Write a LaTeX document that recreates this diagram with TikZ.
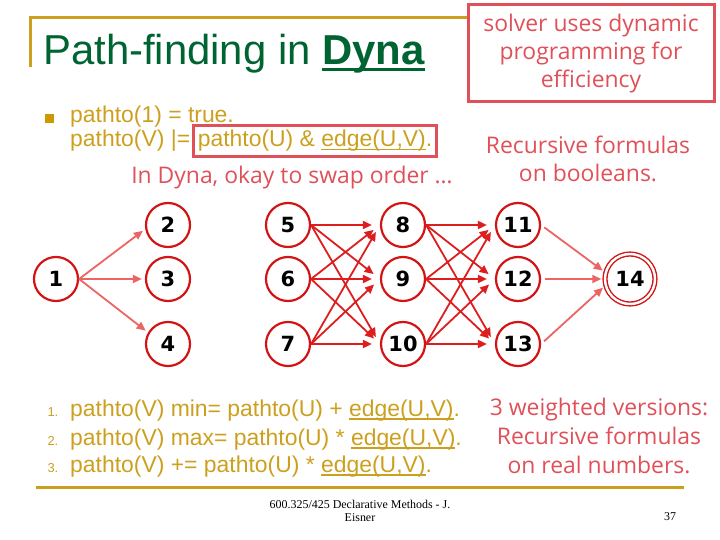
\documentclass[tikz,border=0pt]{standalone}
\usepackage{fontspec}
\setmainfont{Liberation Sans}
\newfontfamily\comicfont{Open Sans}
\newfontfamily\numfont{DejaVu Sans}
\newfontfamily\footfont{Liberation Serif}
\usetikzlibrary{arrows.meta,positioning}
\definecolor{gold}{RGB}{204,160,30}
\definecolor{bulletgold}{RGB}{204,153,0}
\definecolor{titlegreen}{RGB}{0,100,50}
\definecolor{notered}{RGB}{224,80,88}
\definecolor{noderim}{RGB}{210,20,20}
\definecolor{darkarrow}{RGB}{222,30,30}
\definecolor{lightarrow}{RGB}{236,100,100}
% underline with own depth and thickness
\newcommand{\thickul}[3]{\setbox0\hbox{#3}\rlap{\rule[-#1]{\wd0}{#2}}\box0}
\tikzset{
  vertex/.style={circle, draw=noderim, line width=2.2bp, minimum size=44bp, inner sep=0pt,
    font=\numfont\bfseries\fontsize{21}{21}\selectfont},
  goal/.style={vertex, minimum size=50bp, line width=1.4bp, double=white, double distance=2.4bp},
  hop/.style={-{Triangle[length=9bp,width=8bp]}, draw=darkarrow, line width=1.8bp, shorten >=8bp},
  outer/.style={hop, draw=lightarrow, shorten >=3bp},
  goldtext/.style={text=gold, font=\fontsize{23}{25}\selectfont, inner sep=0pt},
  note/.style={text=notered, font=\comicfont\fontsize{23}{28}\selectfont, align=center, inner sep=0pt},
}
\begin{document}
\begin{tikzpicture}[x=1bp,y=-1bp]
    \useasboundingbox (0,0) rectangle (720,540);
    % Title and frame
    \draw[gold, line width=3bp] (30,67) -- (30,18) -- (470,18);
    \draw[gold, line width=3bp] (36,487) -- (684,487);
    \node[anchor=base west, text=titlegreen, font=\fontsize{42}{42}\selectfont, inner sep=0pt] (title) at (43,65)
        {Path-finding in \thickul{6bp}{2.5bp}{\textbf{Dyna}}};
    \node[note, draw=notered, fill=white, line width=3bp, minimum width=246bp, minimum height=97bp] (solver) at (591,53.5)
        {solver uses dynamic\\programming for\\efficiency};
    % Boolean rules
    \node[fill=bulletgold, minimum size=9bp, inner sep=0pt] (bullet) at (49,119) {};
    \node[goldtext, anchor=base west] (rule1) at (70,123) {pathto(1) = true.};
    \node[goldtext, anchor=base west] (rule2) at (70,147) {pathto(V) |=};
    \node[goldtext, draw=notered, line width=3bp, inner sep=4bp, text height=17bp, text depth=6bp, anchor=base west]
        (body) at ([xshift=2bp]rule2.base east) {pathto(U) \& \thickul{3.5bp}{1.8bp}{edge(U,V)}.};
    \node[note] (boolnote) at (588,159) {Recursive formulas\\on booleans.};
    \node[note] (swap) at (292,178) {In Dyna, okay to swap order \dots};
    % Graph
    \node[vertex] (n1) at (56,279) {1};
    \node[vertex] (n2) at (168,225) {2};
    \node[vertex] (n3) at (168,279) {3};
    \node[vertex] (n4) at (168,344) {4};
    \node[vertex] (n5) at (288,225) {5};
    \node[vertex] (n6) at (288,279) {6};
    \node[vertex] (n7) at (288,344) {7};
    \node[vertex] (n8) at (403,225) {8};
    \node[vertex] (n9) at (403,279) {9};
    \node[vertex] (n10) at (403,344) {10};
    \node[vertex] (n11) at (518,225) {11};
    \node[vertex] (n12) at (518,279) {12};
    \node[vertex] (n13) at (518,344) {13};
    \node[goal] (n14) at (630,279) {14};
    \draw[outer] (n1.east) -- (n2.190);
    \draw[outer] (n1.east) -- (n3.west);
    \draw[outer] (n1.east) -- (n4.150);
    \foreach \s in {5,6,7}
        \foreach \t in {8,9,10}
            \draw[hop] (n\s.east) -- (n\t.west);
    \foreach \s in {8,9,10}
        \foreach \t in {11,12,13}
            \draw[hop] (n\s.east) -- (n\t.west);
    \draw[outer, shorten <=4bp] (n11.east) -- (n14.165);
    \draw[outer, shorten <=4bp] (n12.east) -- (n14.west);
    \draw[outer, shorten <=4bp] (n13.east) -- (n14.195);
    % Weighted rules
    \node[text=gold, font=\fontsize{13}{13}\selectfont, anchor=base west] (num1) at (44,416) {1.};
    \node[text=gold, font=\fontsize{13}{13}\selectfont, anchor=base west] (num2) at (44,445) {2.};
    \node[text=gold, font=\fontsize{13}{13}\selectfont, anchor=base west] (num3) at (44,472) {3.};
    \node[goldtext, anchor=base west] (w1) at (70,416) {pathto(V) min= pathto(U) + \thickul{3.5bp}{1.8bp}{edge(U,V)}.};
    \node[goldtext, anchor=base west] (w2) at (70,445) {pathto(V) max= pathto(U) * \thickul{3.5bp}{1.8bp}{edge(U,V)}.};
    \node[goldtext, anchor=base west] (w3) at (70,472) {pathto(V) += pathto(U) * \thickul{3.5bp}{1.8bp}{edge(U,V)}.};
    \node[note, font=\comicfont\fontsize{23}{29}\selectfont] (realnote) at (599,436)
        {3 weighted versions:\\Recursive formulas\\on real numbers.};
    % Footer
    \node[font=\footfont\fontsize{12}{13}\selectfont, align=center] (foot) at (360,511)
        {600.325/425 Declarative Methods - J.\\Eisner};
    \node[font=\footfont\fontsize{12}{12}\selectfont] (page) at (670,517) {37};
\end{tikzpicture}
\end{document}
